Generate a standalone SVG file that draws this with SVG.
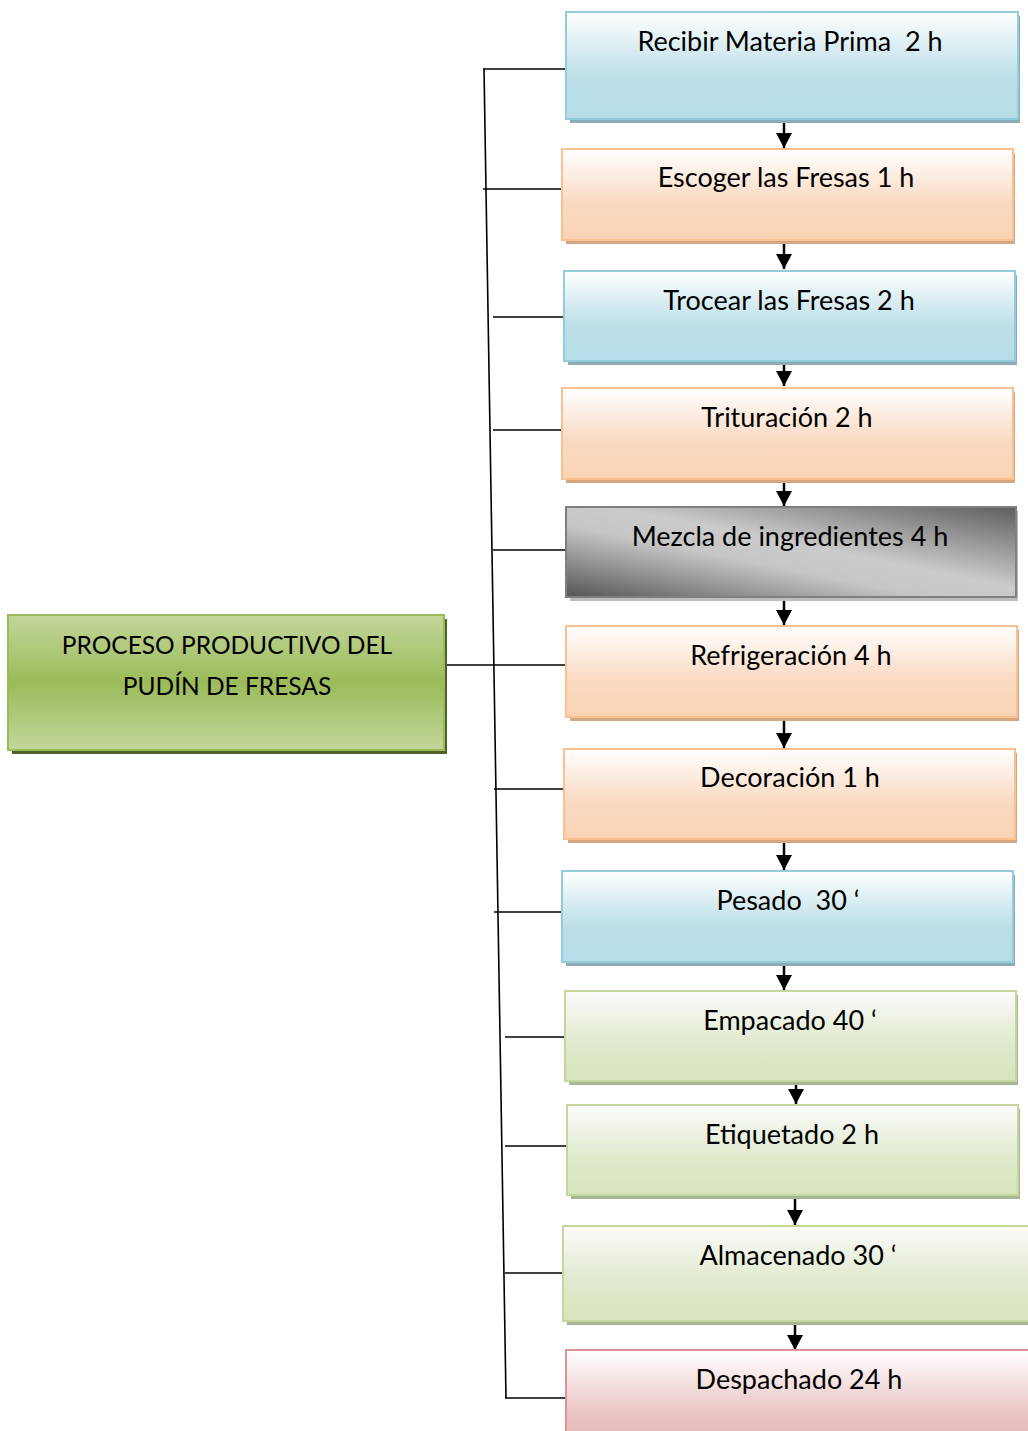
<svg xmlns="http://www.w3.org/2000/svg" width="1028" height="1431" viewBox="0 0 1028 1431">
<defs>
<linearGradient id="gBlue" x1="0" y1="0" x2="0" y2="1"><stop offset="0" stop-color="#ffffff"/><stop offset="0.6" stop-color="#bcdfe8"/><stop offset="1" stop-color="#b6dde8"/></linearGradient>
<linearGradient id="gOrange" x1="0" y1="0" x2="0" y2="1"><stop offset="0" stop-color="#ffffff"/><stop offset="0.6" stop-color="#fad9c1"/><stop offset="1" stop-color="#f9d3b3"/></linearGradient>
<linearGradient id="gGreen" x1="0" y1="0" x2="0" y2="1"><stop offset="0" stop-color="#fbfbfb"/><stop offset="0.6" stop-color="#dfe9cc"/><stop offset="1" stop-color="#d7e4bd"/></linearGradient>
<linearGradient id="gPink" x1="0" y1="0" x2="0" y2="1"><stop offset="0" stop-color="#ffffff"/><stop offset="0.7" stop-color="#ebc5c4"/><stop offset="1" stop-color="#e6b9b8"/></linearGradient>
<linearGradient id="gGray" x1="1" y1="0" x2="0" y2="1"><stop offset="0" stop-color="#5e5e5e"/><stop offset="0.45" stop-color="#cbcbcb"/><stop offset="0.6" stop-color="#c6c6c6"/><stop offset="1" stop-color="#555555"/></linearGradient>
<linearGradient id="gMain" x1="0" y1="0" x2="0" y2="1"><stop offset="0" stop-color="#c3d69b"/><stop offset="0.5" stop-color="#9bbb59"/><stop offset="1" stop-color="#c3d69b"/></linearGradient>
<marker id="ah" markerWidth="15" markerHeight="16" refX="15" refY="8" orient="auto" markerUnits="userSpaceOnUse" viewBox="0 0 15 16"><path d="M0,0 L15,8 L0,16 Z" fill="#000"/></marker>
</defs>
<style>
text{font-family:Lato,"Open Sans","Liberation Sans",sans-serif;font-size:27px;fill:#000;text-anchor:middle}
.mt{font-size:24.5px}
.blue{fill:url(#gBlue);stroke:#93cddd;stroke-width:2}
.orange{fill:url(#gOrange);stroke:#fac090;stroke-width:2}
.green{fill:url(#gGreen);stroke:#c3d69b;stroke-width:2}
.pink{fill:url(#gPink);stroke:#d99594;stroke-width:2}
.gray{fill:url(#gGray);stroke:#7f7f7f;stroke-width:2}
.main{fill:url(#gMain);stroke:#9bbb59;stroke-width:2}
.sBlue{fill:#8eaab3}
.sOrange{fill:#d4a784}
.sGreen{fill:#a9b595}
.sGray{fill:#bdbdbd}
.sPink{fill:#c4a0a0}
.sMain{fill:#4f6228}
.br{stroke:#000;stroke-width:1.6;fill:none}
.ar{stroke:#000;stroke-width:2.5;fill:none}
</style>

<g id="connectors">
<line class="br" x1="484" y1="69" x2="506" y2="1398"/>
<line class="br" x1="483" y1="69" x2="566" y2="69"/>
<line class="br" x1="483" y1="189" x2="562" y2="189"/>
<line class="br" x1="493" y1="317" x2="564" y2="317"/>
<line class="br" x1="493" y1="430" x2="562" y2="430"/>
<line class="br" x1="493" y1="550" x2="566" y2="550"/>
<line class="br" x1="445" y1="665" x2="568" y2="665"/>
<line class="br" x1="494" y1="789" x2="564" y2="789"/>
<line class="br" x1="494" y1="912" x2="562" y2="912"/>
<line class="br" x1="505" y1="1037" x2="565" y2="1037"/>
<line class="br" x1="505" y1="1146" x2="567" y2="1146"/>
<line class="br" x1="505" y1="1273" x2="563" y2="1273"/>
<line class="br" x1="505" y1="1398" x2="566" y2="1398"/>
<line class="ar" x1="784" y1="114" x2="784" y2="148" marker-end="url(#ah)"/>
<line class="ar" x1="784" y1="236" x2="784" y2="269" marker-end="url(#ah)"/>
<line class="ar" x1="784" y1="357" x2="784" y2="386" marker-end="url(#ah)"/>
<line class="ar" x1="784" y1="475" x2="784" y2="506" marker-end="url(#ah)"/>
<line class="ar" x1="784" y1="593" x2="784" y2="625" marker-end="url(#ah)"/>
<line class="ar" x1="784" y1="713" x2="784" y2="748" marker-end="url(#ah)"/>
<line class="ar" x1="784" y1="835" x2="784" y2="870" marker-end="url(#ah)"/>
<line class="ar" x1="784" y1="958" x2="784" y2="990" marker-end="url(#ah)"/>
<line class="ar" x1="796" y1="1077" x2="796" y2="1104" marker-end="url(#ah)"/>
<line class="ar" x1="795" y1="1191" x2="795" y2="1225" marker-end="url(#ah)"/>
<line class="ar" x1="795" y1="1318" x2="795" y2="1350" marker-end="url(#ah)"/>
</g>

<g id="main">
<rect class="sMain" x="12" y="619" width="435" height="135"/>
<rect class="main" x="8" y="615" width="436" height="135"/>
<text class="mt" x="227" y="654">PROCESO PRODUCTIVO DEL</text>
<text class="mt" x="227" y="695">PUDÍN DE FRESAS</text>
</g>

<g id="n1">
<rect class="sBlue" x="570" y="16" width="450" height="107"/>
<rect class="blue" x="566" y="12" width="452" height="107"/>
<text x="790" y="51" xml:space="preserve">Recibir Materia Prima  2 h</text>
</g>
<g id="n2">
<rect class="sOrange" x="566" y="153" width="449" height="91"/>
<rect class="orange" x="562" y="149" width="451" height="91"/>
<text x="786" y="187">Escoger las Fresas 1 h</text>
</g>
<g id="n3">
<rect class="sBlue" x="568" y="275" width="449" height="90"/>
<rect class="blue" x="564" y="271" width="451" height="90"/>
<text x="789" y="310">Trocear las Fresas 2 h</text>
</g>
<g id="n4">
<rect class="sOrange" x="566" y="392" width="449" height="91"/>
<rect class="orange" x="562" y="388" width="451" height="91"/>
<text x="787" y="427">Trituración 2 h</text>
</g>
<g id="n5">
<rect class="sGray" x="570" y="511" width="448" height="90"/>
<rect class="gray" x="566" y="507" width="450" height="90"/>
<text x="790" y="546">Mezcla de ingredientes 4 h</text>
</g>
<g id="n6">
<rect class="sOrange" x="570" y="630" width="449" height="91"/>
<rect class="orange" x="566" y="626" width="451" height="91"/>
<text x="791" y="665">Refrigeración 4 h</text>
</g>
<g id="n7">
<rect class="sOrange" x="568" y="753" width="449" height="90"/>
<rect class="orange" x="564" y="749" width="451" height="90"/>
<text x="790" y="787">Decoración 1 h</text>
</g>
<g id="n8">
<rect class="sBlue" x="566" y="875" width="449" height="91"/>
<rect class="blue" x="562" y="871" width="451" height="91"/>
<text x="788" y="910" xml:space="preserve">Pesado  30 ‘</text>
</g>
<g id="n9">
<rect class="sGreen" x="569" y="995" width="449" height="90"/>
<rect class="green" x="565" y="991" width="451" height="90"/>
<text x="790" y="1030">Empacado 40 ‘</text>
</g>
<g id="n10">
<rect class="sGreen" x="571" y="1109" width="449" height="90"/>
<rect class="green" x="567" y="1105" width="451" height="90"/>
<text x="792" y="1144">Etiquetado 2 h</text>
</g>
<g id="n11">
<rect class="sGreen" x="567" y="1230" width="470" height="95"/>
<rect class="green" x="563" y="1226" width="470" height="95"/>
<text x="798" y="1265">Almacenado 30 ‘</text>
</g>
<g id="n12">
<rect class="sPink" x="570" y="1354" width="470" height="90"/>
<rect class="pink" x="566" y="1350" width="470" height="90"/>
<text x="799" y="1389">Despachado 24 h</text>
</g>
</svg>
